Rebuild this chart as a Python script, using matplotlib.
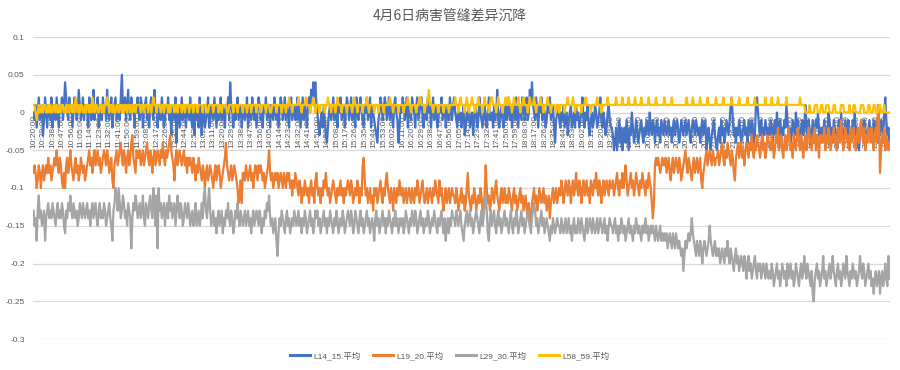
import numpy as np
import matplotlib
matplotlib.use("Agg")
import matplotlib.pyplot as plt
from matplotlib.ticker import FuncFormatter
from datetime import datetime, timedelta

plt.rcParams['font.family'] = ['Liberation Sans', 'Noto Sans CJK SC', 'DejaVu Sans']

title = "4月6日病害管缝差异沉降"
series_names = ["L14_15.平均", "L19_20.平均", "L29_30.平均", "L58_59.平均"]
colors = ["#4472C4", "#ED7D31", "#A5A5A5", "#FFC000"]

# values in hundredths (one per minute from 10:20:00)
l14_15 = [
    0,-1,1,-2,0,2,-1,0,1,-3, -1,2,0,-2,1,0,-1,2,-2,0, 1,-1,2,0,-2,1,0,2,-1,1, 4,2,0,-1,2,0,1,-2,0,2, 1,-1,0,3,1,-1,0,2,-1,1,
    1,0,-2,2,1,-1,0,3,-1,1, 0,2,-2,0,1,-1,2,0,1,-1, 3,0,-1,1,2,-2,0,1,2,-1, 0,1,-1,2,5,1,0,2,-1,1, 3,0,-1,2,0,1,-2,1,0,2,
    0,-1,2,1,-2,0,1,2,-1,0, -2,1,2,0,-1,3,0,1,-2,0, 1,-1,2,0,-2,-1,1,0,2,-1, 0,-3,1,0,-1,2,-4,0,1,-2, 0,2,-1,1,0,-2,1,0,-1,2,
    -1,-2,0,-3,1,-1,0,-2,2,-1, -3,0,1,-2,-1,0,2,-2,-1,1, 0,-1,2,0,-2,1,-1,0,2,-1, 1,0,-2,1,0,2,-1,4,1,0, -2,1,-1,0,2,-1,0,1,-2,0,
    1,-1,0,2,-2,0,1,-1,2,0, -1,1,-2,0,2,1,-1,0,-2,1, 0,2,-1,0,1,-2,1,0,-1,2, 0,-1,1,-2,0,2,1,-1,0,2, -1,1,0,-2,1,2,-1,0,1,-1,
    0,2,-1,1,-2,0,2,-1,1,0, -2,1,2,0,3,1,4,2,4,1, 0,-2,-3,-1,0,-2,1,-1,-3,-4, -2,0,1,-1,0,2,-1,1,0,-2, 1,0,2,-1,0,1,-2,0,2,1,
    -1,0,2,-1,1,0,-2,2,0,-1, 1,2,0,-1,-2,1,0,2,-1,0, 2,-2,1,0,-1,-2,-3,-4,-1,0, 2,1,-1,0,2,1,-1,0,2,-1, 1,0,-2,1,2,0,-1,-4,-2,1,
    0,2,1,-1,0,2,-2,1,0,-1, 2,1,0,-2,1,2,-1,0,1,2, -1,-2,0,1,-1,2,0,1,-2,0, 2,-1,1,0,-2,-1,1,0,2,-1, 0,1,-2,0,1,-1,2,0,-1,1,
    2,0,-1,-2,1,-1,0,-2,-1,1, -3,-2,0,-1,1,-2,-1,0,-3,-1, 1,0,-2,-1,2,0,-1,-2,0,1, -1,-2,0,2,-1,-1,0,-2,1,-1, 0,3,-1,-2,0,1,-1,-2,0,1,
    -1,0,2,-1,1,-2,0,1,-1,2, 0,-2,1,0,-1,2,1,-1,0,2, -1,0,3,1,4,1,0,-1,2,0, -2,1,0,2,-1,1,0,-2,-1,1, 0,2,-1,0,1,-2,-4,-1,0,1,
    -1,-2,0,-1,1,-2,-1,0,-3,-1, 0,1,-2,-1,0,-2,1,-1,0,-2, -1,0,2,-1,-2,0,-1,1,-2,-3, -1,0,-2,-1,1,0,-2,-1,0,2, -1,-2,0,-1,-3,-2,0,1,-1,-2,
    -2,-3,-5,-4,-2,-5,-3,-1,-4,-2, -5,-3,-2,-4,-1,-3,-5,-2,-3,0, -2,-4,-3,-1,-2,-4,-3,-2,-1,-3, -4,-2,-3,-1,-2,-3,0,-2,-3,-1, -2,-4,-2,-1,-3,-2,-4,-1,-2,-3,
    -1,-2,-3,-2,-1,-3,-2,-4,-2,-1, -3,-2,-1,-2,-4,-3,-1,-2,-3,-2, -1,-3,-2,-1,-3,-4,-2,-1,-2,-3, -1,-2,-3,-2,-4,-2,-1,-3,-2,-1, -5,-3,-2,-4,-5,-3,-2,-1,-3,-4,
    -5,-3,-2,-4,-1,-3,-2,-4,-3,-1, -2,-3,-1,1,2,-1,-3,-2,-4,-2, -3,-1,-2,-4,-3,-2,-1,-3,-2,-4, -1,-2,-3,-1,-2,-4,-3,1,2,0, -2,-3,-1,-4,-2,-3,-1,-2,-3,-2,
    -3,-1,-2,-4,-2,-1,-3,0,-2,-3, -1,-4,-2,-3,-1,-2,1,-1,-3,-2, -4,-3,-1,-2,-3,0,-2,-1,-3,-4, -2,-1,-3,-2,1,-2,-3,-1,-2,-4, -3,-1,-2,-3,-1,-2,0,-3,-2,-4,
    -2,-3,-1,-4,-2,-3,0,-1,-3,-2, -4,-1,-2,-3,-5,-2,-1,-3,0,-2, -4,-3,-1,-2,-3,-1,-4,-2,-3,-1, -2,0,-3,-2,-4,-5,-3,-1,-2,-3, -1,-2,-4,-3,-2,-1,-3,-2,-4,-1,
    -2,-3,-1,-4,-2,-3,-1,-2,-3,0, 2,-1,-3,-2,-4,
]

l19_20 = [
    -8,-7,-8,-10,-9,-7,-8,-10,-8,-7, -9,-8,-7,-8,-6,-8,-7,-9,-8,-7, -6,-7,-5,-7,-8,-6,-7,-9,-10,-8, -10,-7,-6,-8,-7,-5,-7,-8,-9,-7, -6,-8,-7,-9,-8,-6,-7,-8,-7,-9,
    -8,-7,-6,-5,-7,-6,-8,-6,-5,-7, -6,-5,-7,-6,-8,-7,-6,-5,-6,-7, -5,-6,-8,-7,-6,-9,-10,-7,-6,-5, -7,-6,-5,-4,-6,-7,-5,-6,-8,-6, -5,-7,-6,-4,-3,-6,-7,-8,-5,-6,
    -6,-5,-7,-6,-5,-7,-6,-5,-4,-6, -7,-5,-6,-8,-6,-5,-7,-6,-5,-6, -7,-5,-6,-4,-6,-7,-5,-6,-5,-4, -3,-5,-6,-7,-9,-6,-5,-7,-6,-5, -6,-7,-6,-5,-7,-6,-8,-6,-7,-6,
    -7,-8,-6,-7,-9,-7,-8,-6,-7,-8, -9,-7,-8,-10,-8,-7,-9,-8,-7,-8, -9,-10,-8,-7,-9,-8,-7,-8,-10,-9, -8,-7,-6,-4,-7,-8,-9,-8,-7,-9, -8,-7,-8,-9,-10,-12,-11,-9,-12,-8,
    -8,-9,-7,-8,-9,-8,-7,-9,-8,-10, -8,-7,-8,-9,-7,-8,-7,-8,-9,-8, -10,-9,-8,-7,-5,-8,-9,-8,-10,-9, -8,-9,-8,-10,-9,-8,-9,-10,-8,-9, -10,-8,-9,-8,-10,-9,-11,-9,-10,-8,
    -9,-10,-11,-9,-10,-12,-10,-11,-9,-10, -11,-10,-12,-10,-9,-11,-10,-12,-9,-8, -10,-11,-10,-12,-10,-11,-9,-10,-8,-10, -11,-10,-12,-11,-10,-9,-10,-11,-12,-10, -11,-10,-9,-11,-10,-12,-10,-11,-10,-9,
    -10,-11,-9,-10,-12,-11,-10,-11,-9,-10, -12,-10,-11,-7,-6,-9,-11,-10,-12,-11, -10,-12,-11,-13,-10,-11,-10,-12,-11,-10, -9,-11,-12,-10,-11,-9,-8,-10,-11,-12, -10,-11,-13,-10,-11,-12,-10,-11,-9,-10,
    -11,-10,-12,-11,-10,-12,-11,-10,-11,-12, -10,-11,-12,-10,-11,-9,-10,-12,-11,-10, -9,-11,-12,-11,-10,-12,-11,-10,-11,-12, -10,-11,-9,-10,-11,-12,-9,-11,-10,-12, -13,-11,-10,-12,-11,-10,-12,-11,-10,-11,
    -11,-12,-10,-11,-13,-12,-11,-10,-12,-11, -13,-12,-10,-8,-11,-12,-13,-11,-12,-10, -11,-13,-12,-11,-12,-10,-11,-13,-12,-11, -7,-10,-12,-11,-13,-12,-10,-11,-12,-10, -9,-11,-12,-13,-11,-10,-12,-11,-10,-12,
    -11,-12,-10,-11,-12,-13,-11,-10,-12,-11, -13,-12,-11,-10,-12,-11,-13,-12,-11,-13, -14,-12,-15,-14,-12,-11,-10,-12,-11,-13, -12,-10,-11,-12,-11,-10,-12,-11,-13,-12, -11,-14,-12,-11,-10,-12,-11,-10,-12,-11,
    -10,-11,-9,-10,-12,-11,-9,-10,-11,-9, -10,-12,-10,-9,-11,-10,-8,-10,-11,-9, -10,-12,-10,-9,-11,-10,-9,-11,-10,-12, -9,-10,-11,-9,-10,-8,-10,-11,-9,-10, -12,-10,-9,-11,-10,-9,-10,-11,-9,-10,
    -10,-9,-11,-10,-9,-8,-10,-11,-9,-10, -8,-10,-9,-7,-9,-11,-10,-9,-8,-10, -9,-11,-10,-8,-9,-10,-11,-9,-10,-8, -9,-10,-11,-9,-10,-8,-9,-10,-12,-14, -12,-7,-6,-7,-6,-7,-8,-7,-6,-7,
    -7,-6,-8,-7,-6,-8,-9,-7,-6,-8, -7,-6,-7,-8,-6,-7,-9,-8,-7,-6, -5,-7,-8,-6,-7,-8,-9,-7,-6,-8, -7,-6,-8,-7,-6,-9,-10,-8,-7,-6, -5,-7,-6,-5,-6,-7,-5,-6,-7,-6,
    -6,-5,-7,-6,-5,-4,-6,-7,-5,-6, -4,-5,-6,-7,-5,-6,-8,-9,-6,-5, -4,-6,-5,-4,-6,-5,-7,-5,-4,-5, -6,-4,-5,-3,-5,-6,-4,-5,-3,-4, -5,-6,-4,-3,-5,-4,-6,-5,-3,-4,
    -4,-5,-3,-4,-6,-5,-3,-4,-2,-5, -4,-3,-5,-6,-4,-3,-5,-4,-2,-3, -5,-4,-6,-3,-4,-5,-3,-2,-4,-5, -3,-4,-6,-4,-3,-5,-4,-2,-3,-4, -5,-3,-4,-2,-5,-3,-4,-6,-3,-4,
    -3,-4,-2,-5,-3,-4,-2,-3,-5,-4, -3,-2,-4,-3,-5,-2,-3,-4,-1,-3, -5,-4,-2,-3,-4,-3,-5,-2,-4,-3, -2,-4,-5,-3,-2,-4,-3,-1,-3,-4, -2,-5,-3,-4,-2,-3,-4,-2,-3,-5,
    -3,-2,-4,1,0,-8,-5,-3,-4,-2, -5,-3,-4,-5,-4,
]

l29_30 = [
    -13,-15,-14,-17,-13,-11,-14,-13,-15,-14, -13,-17,-14,-13,-12,-14,-13,-14,-12,-13, -14,-15,-13,-12,-14,-13,-14,-12,-13,-15, -16,-13,-14,-12,-13,-11,-13,-14,-12,-13, -14,-13,-15,-14,-12,-13,-14,-12,-13,-14,
    -13,-12,-14,-13,-15,-13,-12,-14,-13,-12, -14,-15,-13,-12,-14,-13,-14,-12,-13,-15, -14,-13,-12,-14,-15,-17,-13,-12,-10,-11, -13,-10,-12,-14,-13,-11,-12,-14,-13,-15, -12,-13,-14,-18,-14,-12,-13,-11,-12,-14,
    -13,-12,-14,-13,-11,-14,-15,-12,-13,-14, -12,-11,-13,-14,-10,-12,-15,-11,-18,-10, -13,-12,-14,-13,-12,-15,-13,-12,-14,-11, -13,-12,-14,-13,-12,-15,-13,-11,-13,-14, -12,-13,-15,-14,-12,-13,-14,-12,-13,-15,
    -14,-13,-15,-14,-12,-15,-14,-13,-15,-14, -12,-14,-11,-10,-13,-14,-12,-10,-13,-15, -14,-13,-15,-14,-16,-14,-13,-15,-14,-13, -16,-14,-15,-13,-14,-12,-14,-15,-13,-14, -16,-15,-13,-14,-12,-14,-15,-13,-14,-15,
    -14,-13,-15,-14,-13,-15,-14,-16,-14,-13, -15,-14,-13,-14,-15,-13,-14,-16,-14,-15, -13,-14,-12,-13,-11,-14,-15,-14,-16,-15, -14,-17,-19,-16,-14,-15,-13,-14,-15,-16, -14,-13,-15,-14,-16,-15,-14,-15,-13,-14,
    -15,-14,-13,-15,-14,-16,-14,-15,-13,-14, -16,-15,-14,-13,-15,-14,-16,-15,-13,-14, -13,-15,-14,-16,-15,-14,-13,-15,-14,-16, -14,-15,-13,-14,-15,-16,-14,-15,-13,-14, -16,-15,-14,-15,-13,-14,-16,-15,-14,-13,
    -14,-15,-13,-14,-16,-15,-13,-14,-15,-16, -14,-13,-15,-14,-16,-15,-14,-13,-15,-14, -16,-15,-14,-15,-17,-14,-13,-15,-14,-16, -15,-14,-13,-15,-14,-16,-14,-15,-13,-14, -15,-16,-14,-15,-13,-15,-14,-16,-15,-14,
    -15,-14,-16,-15,-13,-14,-15,-16,-14,-15, -13,-14,-15,-13,-14,-16,-15,-14,-13,-15, -14,-16,-15,-14,-15,-13,-14,-16,-15,-14, -15,-13,-14,-15,-16,-14,-15,-14,-13,-15, -16,-14,-17,-15,-14,-16,-14,-15,-13,-14,
    -14,-15,-13,-14,-15,-14,-13,-15,-16,-17, -15,-14,-13,-15,-14,-13,-15,-14,-16,-15, -14,-13,-14,-15,-16,-14,-13,-15,-14,-12, -11,-13,-16,-17,-14,-13,-15,-14,-13,-15, -16,-14,-13,-15,-14,-16,-15,-14,-13,-15,
    -14,-15,-16,-14,-13,-15,-16,-14,-15,-13, -14,-16,-15,-14,-13,-15,-14,-16,-15,-14, -13,-14,-15,-16,-14,-13,-12,-13,-15,-14, -16,-15,-14,-13,-15,-14,-16,-15,-14,-15, -16,-17,-15,-16,-14,-15,-16,-15,-14,-15,
    -15,-16,-14,-15,-16,-15,-14,-16,-15,-14, -16,-15,-17,-15,-14,-16,-15,-16,-14,-15, -16,-14,-15,-16,-17,-15,-14,-16,-15,-14, -15,-16,-14,-15,-16,-15,-14,-16,-15,-14, -15,-16,-15,-14,-16,-15,-17,-15,-14,-15,
    -15,-16,-15,-14,-16,-15,-17,-15,-16,-14, -15,-16,-15,-17,-16,-15,-14,-16,-15,-16, -17,-15,-16,-14,-15,-16,-15,-16,-17,-15, -16,-15,-14,-16,-15,-17,-16,-15,-16,-15, -16,-17,-15,-16,-17,-16,-15,-17,-16,-17,
    -16,-17,-16,-18,-17,-16,-17,-18,-16,-17, -18,-16,-17,-18,-17,-18,-19,-18,-21,-19, -17,-18,-17,-16,-17,-16,-14,-16,-17,-18, -19,-17,-18,-19,-17,-18,-20,-18,-17,-18, -19,-18,-17,-15,-17,-18,-19,-18,-17,-19,
    -18,-19,-18,-20,-19,-18,-19,-20,-18,-19, -17,-19,-20,-18,-19,-20,-21,-19,-18,-20, -19,-21,-20,-19,-20,-21,-19,-20,-22,-20, -19,-21,-20,-22,-21,-20,-19,-21,-22,-20, -21,-20,-22,-21,-20,-21,-22,-20,-21,-22,
    -21,-22,-20,-21,-23,-22,-21,-20,-22,-21, -23,-22,-20,-21,-22,-21,-23,-20,-22,-21, -20,-22,-21,-23,-22,-20,-21,-22,-23,-21, -20,-22,-21,-19,-21,-22,-20,-21,-22,-23, -21,-24,-25,-22,-21,-20,-22,-21,-23,-22,
    -21,-19,-22,-21,-23,-22,-21,-20,-22,-21, -19,-21,-22,-23,-21,-20,-22,-21,-23,-22, -20,-21,-22,-19,-21,-22,-23,-21,-22,-20, -21,-22,-21,-23,-22,-21,-19,-21,-22,-20, -21,-23,-22,-21,-20,-22,-21,-23,-22,-24,
    -22,-21,-23,-22,-21,-24,-22,-21,-23,-22, -20,-22,-23,-19,-22,
]

l58_59 = [
    1,1,0,-1,0,1,0,0,1,0, 1,1,0,0,1,0,1,0,0,1, 1,0,1,0,0,1,0,1,1,0, 0,1,0,1,0,1,1,0,1,0, 2,1,0,1,0,1,1,0,0,1,
    0,1,1,0,1,0,2,1,0,1, 1,0,0,1,1,0,1,0,1,1, 2,1,0,1,1,0,1,0,0,1, 1,0,1,1,0,1,0,1,1,0, 1,1,0,1,0,1,1,0,1,1,
    1,1,0,1,1,0,1,1,1,0, 1,1,0,1,2,1,1,0,1,1, 1,0,1,1,0,1,1,1,0,1, 0,1,1,1,0,1,1,0,1,1, 1,0,1,1,0,1,1,1,0,1,
    1,1,0,1,1,1,0,1,1,1, 1,0,1,1,1,0,0,1,1,1, 1,0,1,1,1,1,0,1,1,0, 1,1,1,1,0,0,1,1,1,1, 0,1,1,1,0,1,1,1,1,0,
    1,1,1,0,1,1,1,0,1,1, 1,1,0,1,1,1,0,1,1,1, 1,0,1,1,1,0,0,1,1,1, 1,0,1,1,1,1,0,1,1,1, 0,1,1,2,1,1,0,1,1,1,
    1,1,2,1,1,0,1,1,1,2, 1,1,1,0,1,1,2,1,0,1, 1,1,0,1,1,1,1,0,1,1, 2,1,1,0,1,1,1,0,1,2, 1,1,1,0,1,1,1,1,0,1,
    1,1,1,0,1,2,1,1,0,1, 1,1,1,0,1,1,1,2,1,0, 1,1,1,1,0,1,1,1,0,1, 1,1,1,0,1,1,1,1,1,2, 1,1,0,1,1,1,1,0,1,1,
    1,1,0,1,1,1,2,1,1,0, 1,1,1,1,0,1,1,2,2,1, 1,1,0,1,1,2,3,1,1,1, 0,1,1,1,1,0,1,1,1,1, 0,1,1,1,1,0,1,1,1,1,
    1,2,1,1,0,1,2,1,1,1, 0,1,2,1,0,1,1,2,1,1, 0,1,1,2,1,1,1,0,1,2, 1,1,1,0,1,2,2,1,1,1, 0,1,2,1,1,1,0,1,1,2,
    1,1,2,1,1,0,1,2,1,1, 1,2,1,0,1,1,2,1,1,1, 0,1,2,1,1,1,2,1,0,1, 1,1,2,1,1,0,1,1,1,2, 1,1,0,1,1,1,1,0,1,1,
    0,1,1,1,1,0,1,1,2,1, 1,1,1,2,1,0,1,1,1,1, 1,0,1,1,1,2,1,1,1,1, 0,1,1,1,1,1,2,1,1,1, 0,1,1,1,1,1,2,1,1,1,
    1,1,1,1,2,1,1,1,1,1, 2,1,1,1,1,1,2,1,1,1, 1,1,2,1,1,1,1,1,2,1, 1,1,1,1,1,2,1,1,1,1, 1,1,2,1,1,1,1,1,1,1,
    2,1,1,1,1,1,1,2,1,1, 1,1,1,1,1,1,1,1,1,1, 1,2,1,1,1,1,1,2,1,1, 1,1,1,1,2,1,1,1,1,1, 1,2,1,1,1,1,1,1,1,2,
    1,1,1,1,1,1,2,1,1,1, 1,1,1,1,2,1,1,1,1,1, 1,2,1,1,1,1,1,1,1,2, 1,1,1,1,1,1,2,1,1,1, 1,1,1,1,1,1,2,1,1,1,
    1,1,2,1,1,1,1,1,2,1, 1,1,1,1,1,1,2,1,1,1, 1,1,1,1,1,1,1,1,1,2, 1,1,1,1,0,0,0,0,1,0, 0,0,0,1,1,1,0,0,0,1,
    1,0,0,0,1,1,1,0,0,0, 0,1,1,0,0,0,0,0,1,1, 1,0,0,0,0,0,1,0,0,0, 1,1,0,0,0,0,0,1,1,1, 0,0,0,0,1,1,0,0,0,1,
    1,0,0,0,1,1,0,0,0,1, 0,0,0,0,0,
]

series_values = [l14_15, l19_20, l29_30, l58_59]

start_time = datetime(2000, 1, 1, 10, 20, 0)
n_cat = max(len(s) for s in series_values)
categories = [(start_time + timedelta(minutes=k)).strftime("%H:%M:%S") for k in range(n_cat)]
label_step = 9
y_ticks = [-0.3, -0.25, -0.2, -0.15, -0.1, -0.05, 0, 0.05, 0.1]

text_color = "#595959"
grid_color = "#D9D9D9"

fig = plt.figure(figsize=(9, 3.7), dpi=100)
ax = fig.add_axes([33 / 900, 31 / 370, 857 / 900, 302 / 370])

for name, vals, col in zip(series_names, series_values, colors):
    v = np.array(vals, dtype=float) / 100.0
    ax.plot(np.arange(len(v)), v, color=col, lw=1.6, label=name, zorder=3,
            solid_joinstyle='round')

# axis line crossing at zero (set before tick styling, it resets ticks)
for s in ['left', 'right', 'top']:
    ax.spines[s].set_visible(False)
ax.spines['bottom'].set_position(('data', 0))
ax.spines['bottom'].set_color(grid_color)
ax.spines['bottom'].set_zorder(1)

ax.set_xlim(-0.5, n_cat - 0.5)
ax.set_ylim(-0.3, 0.1)
ax.set_yticks(y_ticks)
ax.yaxis.set_major_formatter(FuncFormatter(lambda v, _: "0" if abs(v) < 1e-9 else f"{v:g}"))
ax.yaxis.grid(True, color=grid_color, lw=0.9)
ax.set_axisbelow(True)

tick_pos = list(range(0, n_cat, label_step))
ax.set_xticks(tick_pos)
ax.set_xticklabels([categories[i] for i in tick_pos])
ax.tick_params(axis='x', length=0, pad=2, labelsize=6, labelcolor=text_color,
               labelrotation=90)
ax.tick_params(axis='y', length=0, pad=6, labelsize=6, labelcolor=text_color)

fig.text(0.5, 1 - 17 / 370, title, ha='center', va='center', fontsize=10,
         color=text_color, family=['Noto Sans CJK SC', 'DejaVu Sans'])

leg = fig.legend(loc='center', bbox_to_anchor=(0.5, 1 - 356 / 370), ncol=4,
                 frameon=False, fontsize=6, handlelength=2.4, handletextpad=0.4,
                 columnspacing=1.5, labelcolor=text_color)
for ln in leg.get_lines():
    ln.set_linewidth(2.2)

fig.savefig("out.png", dpi=100)
